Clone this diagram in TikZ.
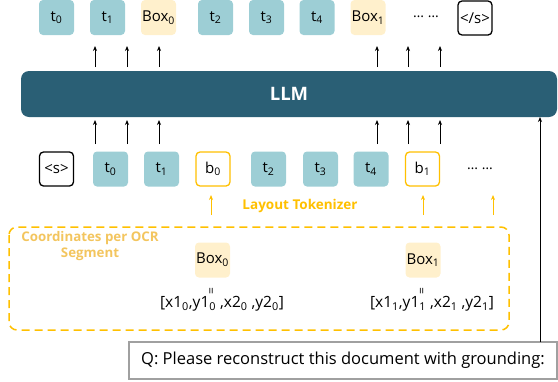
\documentclass[tikz,border=0pt]{standalone}
\usepackage{fontspec}
\setmainfont{Open Sans}
\usetikzlibrary{arrows.meta}
\definecolor{tokteal}{HTML}{9DCED5}
\definecolor{boxyel}{HTML}{FFF0CC}
\definecolor{llmc}{HTML}{2A5F75}
\definecolor{yel}{HTML}{FFC000}
\definecolor{lyel}{HTML}{F3C55E}
\definecolor{qgray}{HTML}{A0A0A0}
\newcommand{\sbs}[1]{\textsubscript{#1}}
\tikzset{
  tok/.style={minimum width=35pt,minimum height=35pt,inner sep=0pt,rounded corners=4pt,font=\fontsize{15}{17}\selectfont},
  teal/.style={tok,fill=tokteal},
  bx/.style={tok,fill=boxyel},
  blk/.style={tok,draw=black,line width=1.3pt,minimum width=34pt,minimum height=34pt},
  ybx/.style={tok,draw=yel,line width=1.3pt,fill=white,minimum width=34pt,minimum height=34pt},
  up/.style={-{Stealth[length=5pt,width=4pt]},line width=0.8pt},
  yup/.style={-{Stealth[length=5pt,width=4pt]},line width=0.8pt,draw=yel},
}
\begin{document}
\begin{tikzpicture}[x=1pt,y=-1pt]
\useasboundingbox (0,0) rectangle (558,381);
% top row
\node[teal] (ot0) at (56.5,17.5) {t\sbs{0}};
\node[teal] (ot1) at (107.5,17.5) {t\sbs{1}};
\node[bx] (obox0) at (158.5,17.5) {Box\sbs{0}};
\node[teal] (ot2) at (215.5,17.5) {t\sbs{2}};
\node[teal] (ot3) at (266.5,17.5) {t\sbs{3}};
\node[teal] (ot4) at (317,17.5) {t\sbs{4}};
\node[bx] (obox1) at (368,17.5) {Box\sbs{1}};
\node[font=\fontsize{14}{16}\selectfont] (odots) at (426,17) {\dots\ \dots};
\node[blk] (oend) at (475,18) {</s>};
% LLM
\node[fill=llmc,rounded corners=8pt,minimum width=536pt,minimum height=46pt,inner sep=0pt,text=white,font=\fontsize{18.5}{20}\selectfont\bfseries] (llm) at (289,94) {LLM};
% arrows
\foreach \x in {95,127,159,377,408,440} {
  \coordinate (a\x) at (\x,67);
  \coordinate (b\x) at (\x,46);
  \draw[up] (a\x) -- (b\x);
  \coordinate (c\x) at (\x,144);
  \coordinate (d\x) at (\x,120);
  \draw[up] (c\x) -- (d\x);
}
% bottom row
\node[blk] (is) at (56.5,169) {<s>};
\node[teal] (it0) at (110.5,169) {t\sbs{0}};
\node[teal] (it1) at (161.5,169) {t\sbs{1}};
\node[ybx] (ib0) at (213,169) {b\sbs{0}};
\node[teal] (it2) at (268.5,169) {t\sbs{2}};
\node[teal] (it3) at (320.5,169) {t\sbs{3}};
\node[teal] (it4) at (371,169) {t\sbs{4}};
\node[ybx] (ib1) at (422.5,169) {b\sbs{1}};
\node[font=\fontsize{14}{16}\selectfont] (idots) at (480,169) {\dots\ \dots};
% yellow arrows
\foreach \x in {211,423,493} {
  \coordinate (ya\x) at (\x,215);
  \coordinate (yb\x) at (\x,195);
  \draw[yup] (ya\x) -- (yb\x);
}
\node[text=yel,font=\fontsize{13.5}{15}\selectfont\bfseries] (lt) at (300,206) {Layout Tokenizer};
% dashed region
\draw[yel,line width=1.5pt,dash pattern=on 8pt off 5pt,rounded corners=8pt] (9,227) rectangle (509,330);
\node[text=lyel,font=\fontsize{13.3}{15.5}\selectfont\bfseries,align=center] (coord) at (90,246) {Coordinates per OCR\\Segment};
\node[bx] (box0) at (212.5,260) {Box\sbs{0}};
\node[bx] (box1) at (423,260) {Box\sbs{1}};
\node[rotate=90,font=\fontsize{12}{12}\selectfont,inner sep=0pt] (eq0) at (212.5,291) {=};
\node[rotate=90,font=\fontsize{12}{12}\selectfont,inner sep=0pt] (eq1) at (423,291) {=};
\node[font=\fontsize{15.5}{17}\selectfont,inner sep=0pt] (c0) at (222,304) {[x1\sbs{0},y1\sbs{0} ,x2\sbs{0} ,y2\sbs{0}]};
\node[font=\fontsize{15.5}{17}\selectfont,inner sep=0pt] (c1) at (432,304) {[x1\sbs{1},y1\sbs{1} ,x2\sbs{1} ,y2\sbs{1}]};
% question
\node[draw=qgray,line width=1.2pt,minimum width=428pt,minimum height=37pt,inner sep=0pt,font=\fontsize{16.5}{18}\selectfont] (q) at (343,360.5) {Q: Please reconstruct this document with grounding:};
\coordinate (qt) at (540,342);
\coordinate (lb) at (540,117);
\draw[up] (qt) -- (lb);
\end{tikzpicture}
\end{document}
